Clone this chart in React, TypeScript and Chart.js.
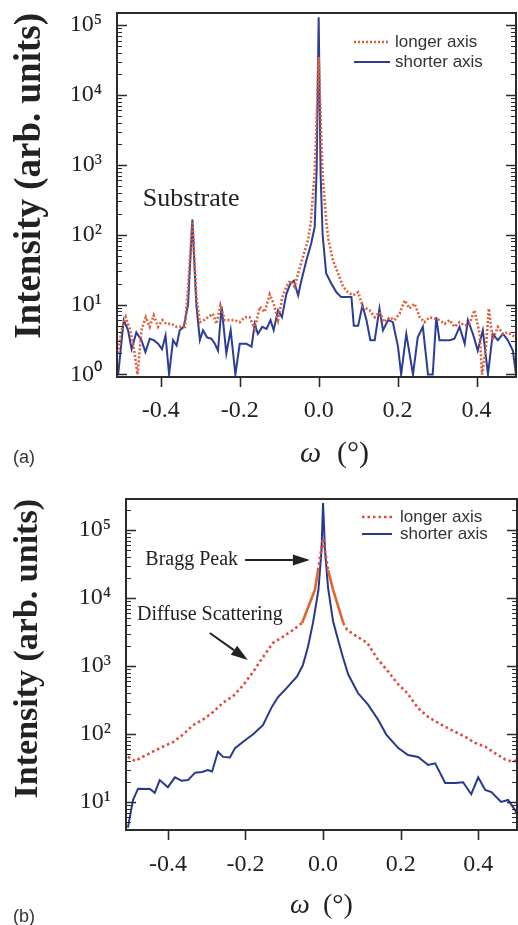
import React, { useEffect, useRef } from 'react';
import { Chart, registerables } from 'chart.js';

Chart.register(...registerables);

// ---------- shared ----------
const SERIES_NAMES = ['longer axis', 'shorter axis'];
const X_TICKS = [-0.4, -0.2, 0, 0.2, 0.4];
const X_TICK_LABELS = ['-0.4', '-0.2', '0.0', '0.2', '0.4'];
const Y_TICKS_A = [1, 10, 100, 1000, 10000, 100000];
const Y_TICK_LABELS_A = ['10⁰', '10¹', '10²', '10³', '10⁴', '10⁵'];
const Y_TICKS_B = [10, 100, 1000, 10000, 100000];
const Y_TICK_LABELS_B = ['10¹', '10²', '10³', '10⁴', '10⁵'];
const Y_TITLE = 'Intensity (arb. units)';

// ---------- panel (a) ----------
const A_LONG_X = [-0.508, -0.5, -0.489, -0.478, -0.47, -0.459, -0.449, -0.438, -0.428, -0.418, -0.407, -0.396, -0.386, -0.373, -0.36, -0.348, -0.339, -0.331, -0.32, -0.31, -0.301, -0.291, -0.28, -0.268, -0.259, -0.249, -0.238, -0.225, -0.213, -0.2, -0.187, -0.175, -0.162, -0.149, -0.137, -0.124, -0.114, -0.103, -0.092, -0.082, -0.072, -0.061, -0.052, -0.04, -0.027, -0.02, -0.01, -0.005, 0, 0.005, 0.01, 0.02, 0.025, 0.036, 0.049, 0.062, 0.074, 0.087, 0.1, 0.112, 0.129, 0.142, 0.154, 0.167, 0.18, 0.192, 0.205, 0.218, 0.23, 0.243, 0.256, 0.268, 0.281, 0.294, 0.306, 0.319, 0.332, 0.344, 0.357, 0.37, 0.382, 0.395, 0.408, 0.414, 0.424, 0.431, 0.441, 0.454, 0.467, 0.479, 0.492, 0.5];
const A_LONG_Y = [2.0, 4.3, 6.6, 4.3, 2.75, 1.0, 4.3, 6.6, 4.8, 7.0, 4.8, 6.0, 5.3, 5.3, 4.8, 4.8, 4.8, 18, 155, 13, 5.6, 6.0, 6.6, 7.4, 5.3, 9.8, 6.0, 6.0, 6.0, 5.6, 6.6, 6.6, 4.5, 9.3, 7.8, 14, 10.3, 6.0, 12.8, 18, 22, 18, 28, 48, 84, 150, 800, 5000, 35000, 4500, 700, 140, 84, 43, 28, 18, 15, 13.6, 15, 9.3, 8.3, 6.6, 7.8, 5.6, 6.6, 6.0, 7.4, 11.5, 8.8, 10.3, 6.6, 5.6, 6.6, 6.3, 6.0, 5.3, 6.0, 4.8, 5.6, 5.0, 5.3, 8.3, 3.8, 1.0, 2.5, 8.8, 3.1, 4.8, 3.8, 4.0, 3.6, 3.4];
const A_SHORT_X = [-0.508, -0.494, -0.483, -0.474, -0.462, -0.449, -0.439, -0.428, -0.418, -0.407, -0.397, -0.388, -0.379, -0.369, -0.36, -0.352, -0.342, -0.331, -0.32, -0.31, -0.301, -0.293, -0.283, -0.272, -0.263, -0.255, -0.246, -0.234, -0.223, -0.211, -0.2, -0.183, -0.17, -0.162, -0.154, -0.143, -0.132, -0.122, -0.114, -0.103, -0.093, -0.082, -0.072, -0.063, -0.052, -0.044, -0.031, -0.019, -0.01, -0.005, 0, 0.005, 0.01, 0.019, 0.032, 0.045, 0.057, 0.07, 0.083, 0.089, 0.1, 0.111, 0.121, 0.131, 0.142, 0.154, 0.163, 0.176, 0.188, 0.201, 0.209, 0.222, 0.239, 0.251, 0.264, 0.277, 0.289, 0.298, 0.306, 0.319, 0.332, 0.344, 0.357, 0.37, 0.378, 0.391, 0.403, 0.416, 0.429, 0.441, 0.454, 0.467, 0.479, 0.492, 0.5];
const A_SHORT_Y = [1.0, 6.0, 4.3, 2.3, 4.0, 3.1, 2.1, 3.25, 3.1, 2.75, 2.3, 3.6, 1.0, 3.1, 2.6, 4.3, 4.8, 10, 165, 10, 3.1, 4.3, 3.4, 3.25, 2.75, 2.2, 9.4, 2.0, 4.3, 1.0, 2.75, 2.75, 2.5, 5.3, 3.8, 4.8, 4.5, 6.0, 4.3, 8.3, 6.6, 14, 20, 22, 13.5, 22, 43, 75, 130, 900, 130000, 700, 100, 28, 20, 15, 12.8, 12.8, 12.8, 5.0, 5.0, 9.8, 6.0, 3.1, 3.1, 8.8, 4.3, 6.0, 5.6, 2.5, 1.0, 3.8, 1.0, 3.4, 4.8, 1.0, 1.0, 6.6, 3.1, 3.1, 3.1, 3.25, 4.8, 2.75, 6.0, 3.8, 2.2, 4.3, 1.0, 3.8, 3.1, 3.8, 3.1, 2.2, 1.0];

// ---------- panel (b) ----------
const B_LONG_X = [-0.503, -0.485, -0.465, -0.439, -0.413, -0.387, -0.361, -0.335, -0.31, -0.284, -0.258, -0.232, -0.206, -0.181, -0.155, -0.129, -0.103, -0.077, -0.054, -0.021, -0.013, 0, 0.013, 0.026, 0.052, 0.062, 0.088, 0.114, 0.139, 0.165, 0.191, 0.217, 0.245, 0.271, 0.297, 0.33, 0.366, 0.392, 0.418, 0.444, 0.47, 0.49, 0.503];
const B_LONG_Y = [46, 40, 46, 55, 65, 76, 98, 135, 162, 209, 288, 360, 520, 810, 1350, 2190, 2700, 3400, 4300, 13200, 25700, 75000, 25700, 13200, 4300, 3400, 2700, 2190, 1300, 870, 560, 400, 240, 178, 145, 115, 91, 74, 65, 52, 42, 39, 42];
const B_SHORT_X = [-0.503, -0.49, -0.477, -0.446, -0.434, -0.421, -0.4, -0.382, -0.364, -0.348, -0.33, -0.312, -0.297, -0.286, -0.271, -0.258, -0.24, -0.227, -0.201, -0.181, -0.155, -0.132, -0.116, -0.093, -0.067, -0.052, -0.039, -0.026, -0.012, -0.004, 0, 0.005, 0.013, 0.026, 0.039, 0.052, 0.065, 0.09, 0.116, 0.142, 0.163, 0.194, 0.219, 0.245, 0.271, 0.289, 0.315, 0.341, 0.361, 0.382, 0.4, 0.418, 0.434, 0.459, 0.477, 0.495, 0.503];
const B_SHORT_Y = [4.2, 10.7, 15.7, 15.5, 13.6, 21, 16.5, 23, 20.5, 21, 27, 27.6, 29.4, 28, 55, 46, 45, 62, 81, 98, 135, 250, 350, 480, 700, 1030, 1900, 4300, 13000, 50000, 250000, 50000, 14000, 4500, 2400, 1300, 750, 400, 270, 162, 98, 62, 49, 46, 35, 37, 19, 19, 19.5, 13, 23, 15, 14, 10, 10.7, 7.6, 6.0];

const SERIF = '"Liberation Serif", "Times New Roman", serif';
const SANS = '"Liberation Sans", Arial, sans-serif';
const INK = '#222';

type Ann =
  | { kind: 'text'; x: number; y: number; text: string; size: number; align: CanvasTextAlign }
  | { kind: 'arrow'; x1: number; y1: number; x2: number; y2: number };

interface PanelCfg {
  height: number;
  top: number;
  padTop: number;
  padRight: number;
  yWidth: number;
  xHeight: number;
  xMin: number;
  xMax: number;
  yMin: number;
  yMax: number;
  yTicks: number[];
  yTickLabels: string[];
  yTitleSize: number;
  yTitlePad: number;
  tickSize: number;
  xTickPad: number;
  yTickPad: number;
  longX: number[];
  longY: number[];
  shortX: number[];
  shortY: number[];
  longColor: string;
  shortColor: string;
  longDash: number[];
  solidNearPeak: boolean;
  legend: { x: number; y: number; len: number; gap: number; row: number; size: number };
  letter: { text: string; x: number; y: number; size: number };
  xTitle: { x: number; parenX: number; base: number; size: number };
  anns: Ann[];
}

function makeDecor(cfg: PanelCfg) {
  return {
    id: 'decor',
    afterDatasetsDraw(chart: any) {
      const { ctx, chartArea } = chart;
      const { left, top, right, bottom } = chartArea;
      const xs = chart.scales.x;
      const ys = chart.scales.y;
      ctx.save();
      // frame
      ctx.strokeStyle = '#2b2b2b';
      ctx.lineWidth = 2;
      ctx.setLineDash([]);
      ctx.strokeRect(left, top, right - left, bottom - top);
      // x ticks (outward)
      ctx.lineWidth = 1.6;
      for (const t of xs.ticks) {
        const px = Math.round(xs.getPixelForValue(t.value)) + 0.5;
        ctx.beginPath();
        ctx.moveTo(px, bottom);
        ctx.lineTo(px, bottom + 10);
        ctx.stroke();
      }
      // y ticks (inward, both sides)
      const lo = Math.floor(Math.log10(ys.min));
      const hi = Math.ceil(Math.log10(ys.max));
      for (let e = lo; e <= hi; e++) {
        for (let m = 1; m <= 9; m++) {
          const v = m * Math.pow(10, e);
          if (v < ys.min || v > ys.max) continue;
          const py = Math.round(ys.getPixelForValue(v)) + 0.5;
          const len = m === 1 ? 10 : 5;
          ctx.lineWidth = m === 1 ? 1.6 : 1;
          ctx.beginPath();
          ctx.moveTo(left, py);
          ctx.lineTo(left + len, py);
          ctx.moveTo(right, py);
          ctx.lineTo(right - len, py);
          ctx.stroke();
        }
      }
      // annotations
      ctx.fillStyle = INK;
      ctx.strokeStyle = INK;
      for (const a of cfg.anns) {
        if (a.kind === 'text') {
          ctx.font = `${a.size}px ${SERIF}`;
          ctx.textAlign = a.align;
          ctx.textBaseline = 'middle';
          ctx.fillText(a.text, xs.getPixelForValue(a.x), ys.getPixelForValue(a.y));
        } else {
          const x1 = xs.getPixelForValue(a.x1), y1 = ys.getPixelForValue(a.y1);
          const x2 = xs.getPixelForValue(a.x2), y2 = ys.getPixelForValue(a.y2);
          const ang = Math.atan2(y2 - y1, x2 - x1);
          const hl = 17, hw = 5.5;
          const bx = x2 - hl * Math.cos(ang), by = y2 - hl * Math.sin(ang);
          ctx.lineWidth = 2;
          ctx.beginPath();
          ctx.moveTo(x1, y1);
          ctx.lineTo(bx, by);
          ctx.stroke();
          ctx.beginPath();
          ctx.moveTo(x2, y2);
          ctx.lineTo(bx + hw * Math.sin(ang), by - hw * Math.cos(ang));
          ctx.lineTo(bx - hw * Math.sin(ang), by + hw * Math.cos(ang));
          ctx.closePath();
          ctx.fill();
        }
      }
      // legend
      const lg = cfg.legend;
      chart.data.datasets.forEach((ds: any, i: number) => {
        const y = lg.y + i * lg.row;
        ctx.strokeStyle = ds.borderColor;
        ctx.lineWidth = ds.borderWidth;
        ctx.setLineDash(ds.borderDash || []);
        ctx.beginPath();
        ctx.moveTo(lg.x, y);
        ctx.lineTo(lg.x + lg.len, y);
        ctx.stroke();
        ctx.setLineDash([]);
        ctx.fillStyle = '#333';
        ctx.font = `${lg.size}px ${SANS}`;
        ctx.textAlign = 'left';
        ctx.textBaseline = 'middle';
        ctx.fillText(ds.label, lg.x + lg.len + lg.gap, y);
      });
      // panel letter
      ctx.fillStyle = '#333';
      ctx.font = `${cfg.letter.size}px ${SANS}`;
      ctx.textAlign = 'left';
      ctx.textBaseline = 'middle';
      ctx.fillText(cfg.letter.text, cfg.letter.x, cfg.letter.y);
      // x title: omega (deg)
      ctx.fillStyle = INK;
      ctx.textBaseline = 'alphabetic';
      ctx.font = `italic ${cfg.xTitle.size}px ${SERIF}`;
      ctx.fillText('ω', cfg.xTitle.x, cfg.xTitle.base);
      ctx.font = `${cfg.xTitle.size}px ${SERIF}`;
      ctx.fillText('(°)', cfg.xTitle.parenX, cfg.xTitle.base);
      ctx.restore();
    },
  };
}

function buildConfig(cfg: PanelCfg): any {
  const pts = (xs: number[], ys: number[]) => xs.map((x, i) => ({ x, y: ys[i] }));
  const longDs: any = {
    label: SERIES_NAMES[0],
    data: pts(cfg.longX, cfg.longY),
    borderColor: cfg.longColor,
    borderWidth: 2.6,
    borderDash: cfg.longDash,
    pointRadius: 0,
    tension: 0,
    fill: false,
    order: 0,
  };
  if (cfg.solidNearPeak) {
    const near = (c: any) => {
      const a = Math.min(Math.abs(c.p0.parsed.x), Math.abs(c.p1.parsed.x));
      const b = Math.max(Math.abs(c.p0.parsed.x), Math.abs(c.p1.parsed.x));
      return a >= 0.012 && b <= 0.06;
    };
    longDs.segment = {
      borderDash: (c: any) => (near(c) ? [] : undefined),
      borderColor: (c: any) => (near(c) ? '#e0662e' : undefined),
    };
  }
  const shortDs: any = {
    label: SERIES_NAMES[1],
    data: pts(cfg.shortX, cfg.shortY),
    borderColor: cfg.shortColor,
    borderWidth: 2,
    pointRadius: 0,
    tension: 0,
    fill: false,
    order: 1,
  };
  return {
    type: 'line',
    data: { datasets: [longDs, shortDs] },
    options: {
      animation: false,
      responsive: false,
      devicePixelRatio: 1,
      layout: { padding: { top: cfg.padTop, right: cfg.padRight, left: 0, bottom: 0 } },
      plugins: { legend: { display: false }, tooltip: { enabled: false } },
      scales: {
        x: {
          type: 'linear',
          min: cfg.xMin,
          max: cfg.xMax,
          afterBuildTicks: (s: any) => {
            s.ticks = X_TICKS.map((v) => ({ value: v }));
          },
          afterFit: (s: any) => {
            s.height = cfg.xHeight;
            s.paddingLeft = 0;
            s.paddingRight = 0;
          },
          grid: { display: false },
          border: { display: false },
          ticks: {
            autoSkip: false,
            maxRotation: 0,
            padding: cfg.xTickPad,
            color: INK,
            font: { family: SERIF, size: cfg.tickSize },
            callback: (v: number) => {
              const i = X_TICKS.findIndex((t) => Math.abs(t - v) < 1e-9);
              return i >= 0 ? X_TICK_LABELS[i] : '';
            },
          },
        },
        y: {
          type: 'logarithmic',
          min: cfg.yMin,
          max: cfg.yMax,
          afterBuildTicks: (s: any) => {
            s.ticks = cfg.yTicks.map((v) => ({ value: v }));
          },
          afterFit: (s: any) => {
            s.width = cfg.yWidth;
            s.paddingTop = 0;
            s.paddingBottom = 0;
          },
          grid: { display: false },
          border: { display: false },
          ticks: {
            padding: cfg.yTickPad,
            color: INK,
            font: { family: SERIF, size: cfg.tickSize },
            callback: (v: number) => {
              const i = cfg.yTicks.findIndex((t) => Math.abs(t - v) / t < 1e-6);
              return i >= 0 ? cfg.yTickLabels[i] : '';
            },
          },
          title: {
            display: true,
            text: Y_TITLE,
            align: 'end',
            color: INK,
            font: { family: SERIF, size: cfg.yTitleSize, weight: 'bold' },
            padding: { top: cfg.yTitlePad, bottom: 0 },
          },
        },
      },
    },
    plugins: [makeDecor(cfg)],
  };
}

const PANEL_A: PanelCfg = {
  height: 470,
  top: 0,
  padTop: 13,
  padRight: 2,
  yWidth: 117,
  xHeight: 93,
  xMin: -0.511,
  xMax: 0.5,
  yMin: 0.92,
  yMax: 1.49e5,
  yTicks: Y_TICKS_A,
  yTickLabels: Y_TICK_LABELS_A,
  yTitleSize: 37,
  yTitlePad: 8,
  tickSize: 24,
  xTickPad: 11,
  yTickPad: 7,
  longX: A_LONG_X,
  longY: A_LONG_Y,
  shortX: A_SHORT_X,
  shortY: A_SHORT_Y,
  longColor: '#df5f3a',
  shortColor: '#2b3d95',
  longDash: [2, 2],
  solidNearPeak: false,
  legend: { x: 354, y: 42, len: 36, gap: 5, row: 20, size: 17 },
  letter: { text: '(a)', x: 13, y: 458, size: 18 },
  xTitle: { x: 300, parenX: 337, base: 462, size: 30 },
  anns: [{ kind: 'text', x: -0.4456, y: 321, text: 'Substrate', size: 26, align: 'left' }],
};

const PANEL_B: PanelCfg = {
  height: 455,
  top: 470,
  padTop: 29,
  padRight: 1,
  yWidth: 126,
  xHeight: 95,
  xMin: -0.508,
  xMax: 0.5,
  yMin: 3.87,
  yMax: 2.86e5,
  yTicks: Y_TICKS_B,
  yTickLabels: Y_TICK_LABELS_B,
  yTitleSize: 34,
  yTitlePad: 8,
  tickSize: 24,
  xTickPad: 12,
  yTickPad: 7,
  longX: B_LONG_X,
  longY: B_LONG_Y,
  shortX: B_SHORT_X,
  shortY: B_SHORT_Y,
  longColor: '#e2483c',
  shortColor: '#26398c',
  longDash: [2.5, 3],
  solidNearPeak: true,
  legend: { x: 362, y: 47, len: 30, gap: 8, row: 17, size: 17 },
  letter: { text: '(b)', x: 13, y: 447, size: 18 },
  xTitle: { x: 290, parenX: 323, base: 443, size: 28 },
  anns: [
    { kind: 'text', x: -0.219, y: 36200, text: 'Bragg Peak', size: 20, align: 'right' },
    { kind: 'arrow', x1: -0.201, y1: 36200, x2: -0.034, y2: 36200 },
    { kind: 'text', x: -0.292, y: 5620, text: 'Diffuse Scattering', size: 20, align: 'center' },
    { kind: 'arrow', x1: -0.292, y1: 3055, x2: -0.194, y2: 1225 },
  ],
};

function Panel({ cfg }: { cfg: PanelCfg }) {
  const ref = useRef<HTMLCanvasElement>(null);
  useEffect(() => {
    const chart = new Chart(ref.current as HTMLCanvasElement, buildConfig(cfg));
    return () => chart.destroy();
  }, [cfg]);
  return (
    <div style={{ position: 'absolute', left: 0, top: cfg.top, width: 518, height: cfg.height }}>
      <canvas ref={ref} width={518} height={cfg.height} style={{ width: 518, height: cfg.height, display: 'block' }} />
    </div>
  );
}

export default function App() {
  return (
    <div style={{ position: 'absolute', left: 0, top: 0, width: 518, height: 925, background: '#fff', overflow: 'hidden' }}>
      <Panel cfg={PANEL_A} />
      <Panel cfg={PANEL_B} />
    </div>
  );
}
